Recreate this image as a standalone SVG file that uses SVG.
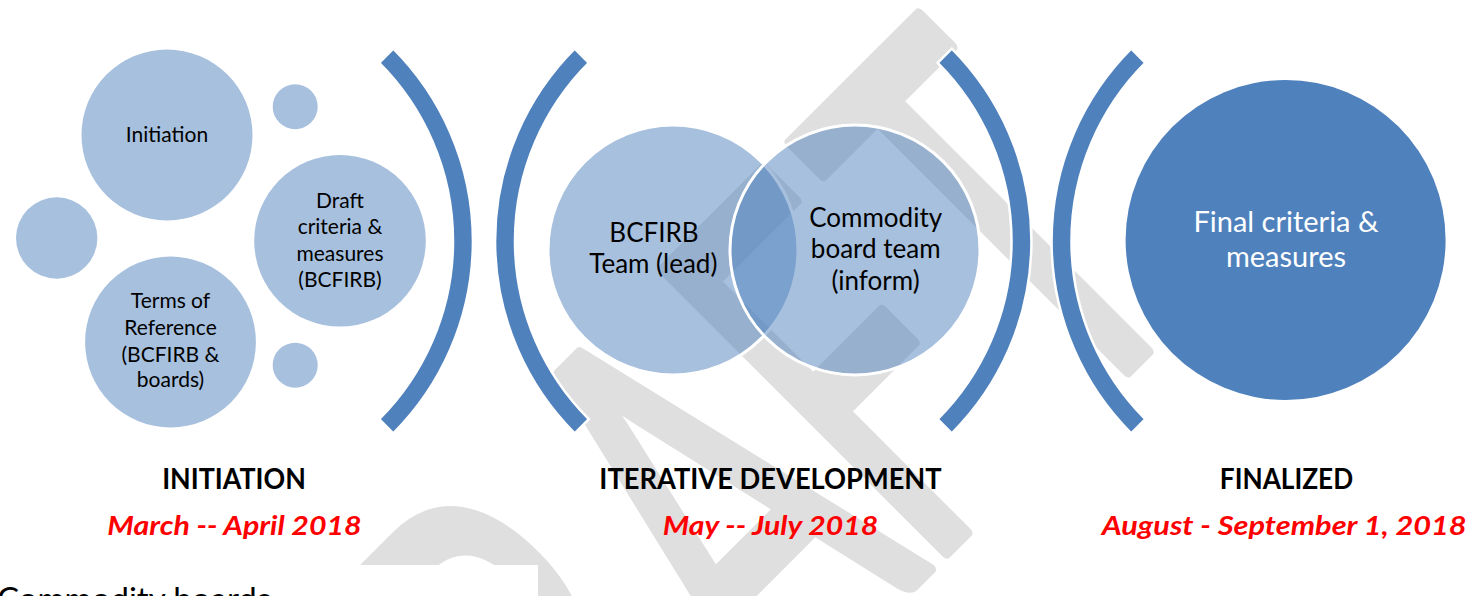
<svg xmlns="http://www.w3.org/2000/svg" width="1480" height="596" viewBox="0 0 1480 596">
<style>
.wm{font-family:Lato,'Liberation Sans',sans-serif;font-size:330px;fill:#dfdfdf;stroke:#dfdfdf;stroke-width:10px;stroke-linejoin:round;}
.c1{fill:#a7c0de;}
.venn{fill:#4f81bd;fill-opacity:0.5;stroke:#fff;stroke-width:3;}
.arc{fill:#4f81bd;stroke:#fff;stroke-width:2.5;}
.fin{fill:#4f81bd;}
.t{font-family:Lato,'Liberation Sans',sans-serif;text-anchor:middle;fill:#000;}
.t1{font-size:21px;}
.t2{font-size:26px;}
.t3{font-size:29px;fill:#fff;}
.h{font-weight:bold;font-size:28px;}
.d{font-weight:bold;font-style:italic;font-size:27.5px;fill:#ff0000;}
</style>
<rect width="1480" height="596" fill="#fff"/>
<g id="watermark" transform="translate(669,264) rotate(-45) scale(1,1.69)">
<text class="wm" x="-721 -483 -252 -40 165" y="236.7" vector-effect="non-scaling-stroke">DRAFT</text>
</g>
<g id="page-text">
<rect x="0" y="565" width="538" height="31" fill="#fff"/>
<text x="-3" y="611" font-family="Lato,'Liberation Sans',sans-serif" font-size="33">Commodity boards</text>
</g>
<g id="phase1">
<g id="n-initiation"><circle class="c1" cx="167" cy="135" r="85.5"/><text class="t t1" x="167" y="141.7">Initiation</text></g>
<g id="n-dot-top"><circle class="c1" cx="295.2" cy="106.7" r="22.5"/></g>
<g id="n-dot-left"><circle class="c1" cx="56.7" cy="238" r="40.7"/></g>
<g id="n-draft"><circle class="c1" cx="340" cy="240.8" r="85.8"/>
<text class="t t1" x="340" y="207.7">Draft</text>
<text class="t t1" x="340" y="234.3">criteria &amp;</text>
<text class="t t1" x="340" y="261">measures</text>
<text class="t t1" x="340" y="286.7">(BCFIRB)</text></g>
<g id="n-terms"><circle class="c1" cx="170.5" cy="342" r="85.4"/>
<text class="t t1" x="170.5" y="308.3">Terms of</text>
<text class="t t1" x="170.5" y="335">Reference</text>
<text class="t t1" x="170.5" y="361.7">(BCFIRB &amp;</text>
<text class="t t1" x="170.5" y="387.3">boards)</text></g>
<g id="n-dot-bottom"><circle class="c1" cx="295.2" cy="365.2" r="22.5"/></g>
</g>
<g id="brackets">
<path id="arc1" class="arc" d="M393.3 48.7 A272 272 0 0 1 393.3 433.3 L379.2 419.2 A252 252 0 0 0 379.2 62.8 Z"/>
<path id="arc2" class="arc" d="M574.7 48.7 A272 272 0 0 0 574.7 433.3 L588.8 419.2 A252 252 0 0 1 588.8 62.8 Z"/>
<path id="arc3" class="arc" d="M951.8 48.7 A272 272 0 0 1 951.8 433.3 L937.7 419.2 A252 252 0 0 0 937.7 62.8 Z"/>
<path id="arc4" class="arc" d="M1131.2 48.7 A272 272 0 0 0 1131.2 433.3 L1145.3 419.2 A252 252 0 0 1 1145.3 62.8 Z"/>
</g>
<g id="phase2">
<g id="n-bcfirb"><circle class="venn" cx="673" cy="250" r="125"/></g>
<g id="n-commodity"><circle class="venn" cx="855" cy="250" r="125"/></g>
<text class="t t2" x="654" y="241.7">BCFIRB</text>
<text class="t t2" x="653.3" y="273.3">Team (lead)</text>
<text class="t t2" x="875.7" y="226.7">Commodity</text>
<text class="t t2" x="875.7" y="258.3">board team</text>
<text class="t t2" x="875.5" y="289.5">(inform)</text>
</g>
<g id="phase3">
<g id="n-final"><circle class="fin" cx="1285.6" cy="240" r="160"/>
<text class="t t3" x="1286" y="231.7">Final criteria &amp;</text>
<text class="t t3" x="1286" y="266.7">measures</text></g>
</g>
<g id="labels">
<text class="t h" x="234" y="488.5" textLength="143.7" lengthAdjust="spacingAndGlyphs">INITIATION</text>
<text class="t h" x="770.5" y="488.5" textLength="342.4" lengthAdjust="spacingAndGlyphs">ITERATIVE DEVELOPMENT</text>
<text class="t h" x="1286.5" y="488.5" textLength="133.3" lengthAdjust="spacingAndGlyphs">FINALIZED</text>
<text class="t d" x="234.5" y="535" textLength="254.4" lengthAdjust="spacingAndGlyphs">March -- April 2018</text>
<text class="t d" x="770.5" y="535" textLength="215.6" lengthAdjust="spacingAndGlyphs">May -- July 2018</text>
<text class="t d" x="1284.2" y="535" textLength="365" lengthAdjust="spacingAndGlyphs">August - September 1, 2018</text>
</g>
</svg>
